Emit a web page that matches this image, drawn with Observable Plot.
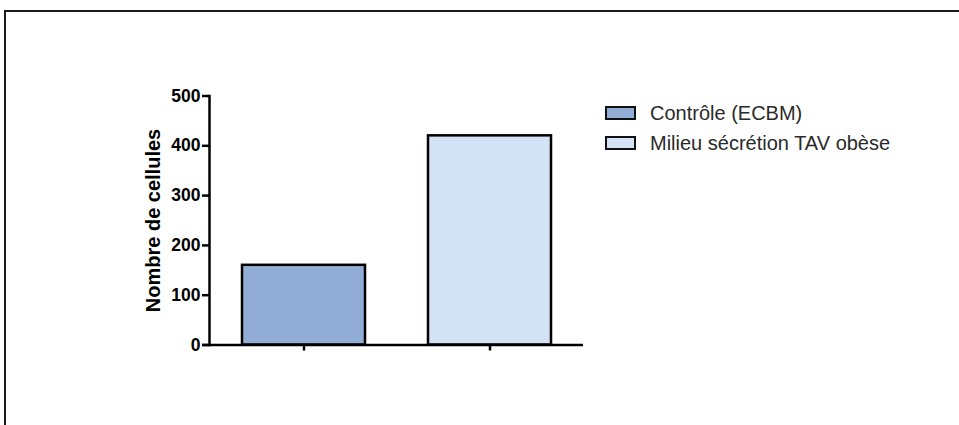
<!DOCTYPE html>
<html>
<head>
<meta charset="utf-8">
<script src="https://cdn.jsdelivr.net/npm/d3@7"></script>
<script src="https://cdn.jsdelivr.net/npm/@observablehq/plot@0.6"></script>
<style>
  html, body { margin: 0; padding: 0; background: #fff; }
  #wrap { position: relative; width: 959px; height: 425px; overflow: hidden; font-family: "Liberation Sans", Arial, sans-serif; }
  #border { position: absolute; left: 4px; top: 10px; right: -10px; bottom: -10px; border-top: 2.6px solid #1a1a1a; border-left: 2.6px solid #1a1a1a; pointer-events: none; }
  #legend { position: absolute; left: 605px; top: 98px; font-size: 20px; color: #2a2a2a; }
  .row { display: flex; align-items: center; height: 30px; }
  .sw { width: 27px; height: 10px; border: 2px solid #111; margin-right: 14px; }
  #chart { position: absolute; left: 0; top: 0; }
</style>
</head>
<body>
<div id="wrap">
  <div id="chart"></div>
  <div id="border"></div>
  <div id="legend"></div>
</div>
<script>
const categories = ["Contrôle (ECBM)", "Milieu sécrétion TAV obèse"];
const values = [160, 420];
const colors = ["#93aed6", "#d3e3f5"];
const yTicks = [0, 100, 200, 300, 400, 500];
const yLabel = "Nombre de cellules";

const data = categories.map((c, i) => ({category: c, value: values[i]}));

const chart = Plot.plot({
  width: 959,
  height: 425,
  marginLeft: 209,
  marginRight: 376,
  marginTop: 95.5,
  marginBottom: 80.5,
  style: {fontFamily: "'Liberation Sans', Arial, sans-serif", background: "transparent", color: "#000"},
  x: {domain: categories, paddingInner: 0.34, paddingOuter: 0.173, axis: null},
  y: {domain: [0, 500], axis: null},
  color: {domain: categories, range: colors},
  marks: [
    Plot.barY(data, {x: "category", y: "value", fill: "category", stroke: "#000", strokeWidth: 2.5}),
    Plot.axisX({tickSize: 6, tickFormat: () => "", stroke: "#000", strokeWidth: 2.5, label: null}),
    Plot.axisY({ticks: yTicks, tickSize: 7, tickPadding: 2, fontSize: 17.5, fontWeight: "bold", strokeWidth: 2.5, label: null}),
    Plot.ruleY([0], {stroke: "#000", strokeWidth: 2.5, insetLeft: -7}),
    Plot.frame({anchor: "left", stroke: "#000", strokeWidth: 2.5}),
    Plot.text([yLabel], {frameAnchor: "left", textAnchor: "middle", rotate: -90, dx: -56, fontSize: 20, fontWeight: "bold", fill: "#000"})
  ]
});
document.getElementById("chart").appendChild(chart);

const legend = document.getElementById("legend");
categories.forEach((c, i) => {
  const row = document.createElement("div");
  row.className = "row";
  const sw = document.createElement("div");
  sw.className = "sw";
  sw.style.background = colors[i];
  const t = document.createElement("span");
  t.textContent = c;
  row.appendChild(sw);
  row.appendChild(t);
  legend.appendChild(row);
});
</script>
</body>
</html>
